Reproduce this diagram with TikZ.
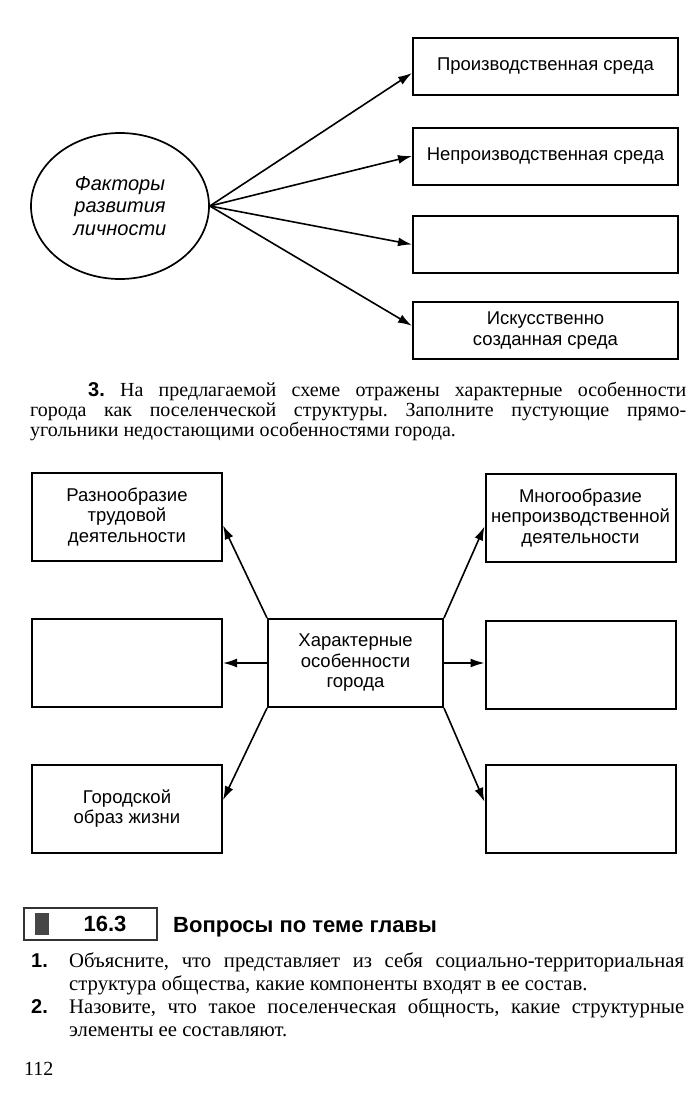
\documentclass[tikz,border=0pt]{standalone}
\usepackage{fontspec}
\setmainfont{Liberation Serif}
\newfontfamily\diagfont{Liberation Sans}
\usetikzlibrary{arrows.meta,shapes.geometric}
\frenchspacing

\begin{document}
\begin{tikzpicture}[x=1pt,y=-1pt,
		envbox/.style={draw, line width=2pt, minimum width=265pt, minimum height=57pt,
		  inner sep=0pt, align=center, font=\diagfont\fontsize{18.5}{21}\selectfont},
		featbox/.style={draw, line width=2pt, minimum width=190pt, minimum height=88pt,
		  inner sep=0pt, align=center, font=\diagfont\fontsize{18.5}{20.5}\selectfont},
		arr/.style={-{Latex[length=14pt,width=9pt]}, line width=1.6pt},
		textline/.style={anchor=base west, inner sep=0pt, font=\fontsize{20}{21}\selectfont},
		qline/.style={textline, font=\fontsize{20.7}{22}\selectfont},
		numlabel/.style={anchor=base west, inner sep=0pt, font=\diagfont\bfseries\fontsize{20}{21}\selectfont}]
    \useasboundingbox (0,0) rectangle (699,1114);
		% first scheme
		\node[ellipse, draw, line width=1.7pt, minimum width=178pt, minimum height=146pt,
		    inner sep=0pt, align=center, font=\diagfont\itshape\fontsize{20}{22.5}\selectfont]
		    (factors) at (120,206) {Факторы\\развития\\личности};
		\node[envbox] (prodenv)   at (545.5,66)    {Производственная среда};
		\node[envbox] (nonprod)   at (545.5,156)   {Непроизводственная среда};
		\node[envbox] (blankenv)  at (545.5,244.5) {};
		\node[envbox] (artenv)    at (545.5,330.5) {Искусственно\\созданная среда};
		\draw[arr] (factors.east) -- (prodenv.183);
		\draw[arr] (factors.east) -- (nonprod.west);
		\draw[arr] (factors.east) -- (blankenv.west);
		\draw[arr] (factors.east) -- (artenv.178);
		% task text
		\node[textline] (task1) at (88,396)
		    {\makebox[598pt][s]{{\diagfont\bfseries 3.} На предлагаемой схеме отражены характерные особенности}};
		\node[textline] (task2) at (30,416)
		    {\makebox[656pt][s]{города как поселенческой структуры. Заполните пустующие прямо-}};
		\node[textline] (task3) at (30,436) {угольники недостающими особенностями города.};
		% second scheme
		\node[featbox] (labour)    at (127,517)     {Разнообразие\\трудовой\\деятельности};
		\node[featbox] (blankL)    at (127,662.5)   {};
		\node[featbox] (lifestyle) at (127,808.5)   {Городской\\образ жизни};
		\node[featbox] (nonlabour) at (580.5,518)   {Многообразие\\непроизводственной\\деятельности};
		\node[featbox] (blankR)    at (580.5,664.5) {};
		\node[featbox] (blankRB)   at (580.5,808.5) {};
		\node[featbox, minimum width=175pt] (city) at (355.5,663) {Характерные\\особенности\\города};
		\draw[arr] (city.north west) -- (labour.-5);
		\draw[arr] (city.north east) -- (nonlabour.185);
		\draw[arr] (city.west) -- (city.west -| blankL.east);
		\draw[arr] (city.east) -- (city.east -| blankR.west);
		\draw[arr] (city.south west) -- (lifestyle.5);
		\draw[arr] (city.south east) -- (blankRB.176);
		% section heading
		\node[draw=gray!40!black, line width=1.8pt, minimum width=133pt, minimum height=32pt,
		    inner sep=0pt] (secbox) at (90.5,924) {};
		\fill[gray!55!black] (35,913) rectangle (49,935);
		\node[anchor=base, inner sep=0pt, font=\diagfont\bfseries\fontsize{22}{24}\selectfont]
		    (secnum) at (105,931) {16.3};
		\node[anchor=base west, inner sep=0pt, font=\diagfont\bfseries\fontsize{22}{24}\selectfont]
		    (sectitle) at (173,932) {Вопросы по теме главы};
		% questions
		\node[numlabel] (q1num) at (31,967) {1.};
		\node[qline] (q1a) at (69,967)
		    {\makebox[615pt][s]{Объясните, что представляет из себя социально-территориальная}};
		\node[qline] (q1b) at (69,990) {структура общества, какие компоненты входят в ее состав.};
		\node[numlabel] (q2num) at (31,1013) {2.};
		\node[qline] (q2a) at (69,1013)
		    {\makebox[615pt][s]{Назовите, что такое поселенческая общность, какие структурные}};
		\node[qline] (q2b) at (69,1036) {элементы ее составляют.};
		\node[textline] (pagenum) at (24,1075) {112};
\end{tikzpicture}
\end{document}
